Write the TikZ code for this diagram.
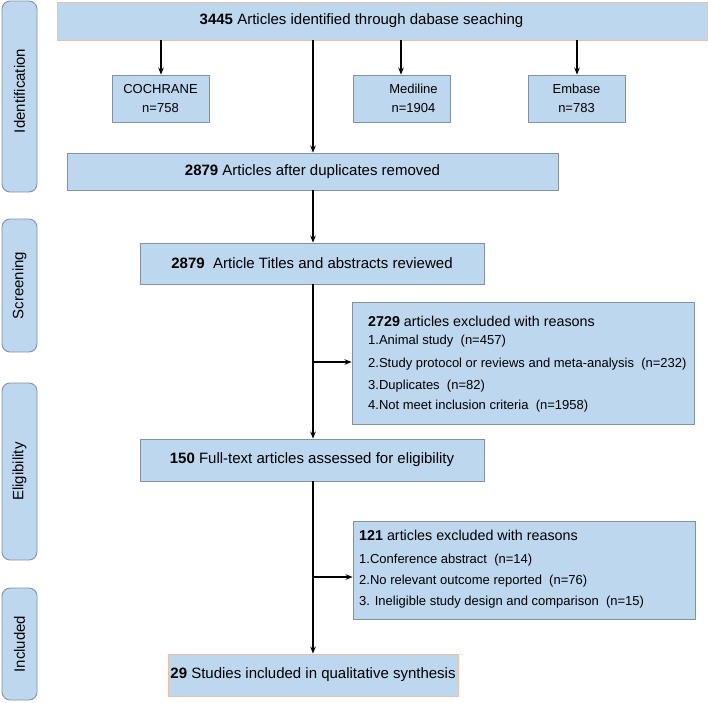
\documentclass[tikz,border=0pt]{standalone}
\usepackage{fontspec}
\setmainfont{Liberation Sans}
\usetikzlibrary{arrows.meta}
\definecolor{boxfill}{HTML}{BDD7EE}
\definecolor{boxline}{HTML}{8391A2}
\definecolor{orangeline}{HTML}{EDBFA8}
\begin{document}
\begin{tikzpicture}[x=1pt,y=-1pt,
  box/.style={draw=boxline,fill=boxfill,line width=0.9pt,rectangle,inner sep=0pt,align=center,font=\fontsize{15}{18}\selectfont},
  obox/.style={box,draw=orangeline},
  smallbox/.style={box,font=\fontsize{13}{19}\selectfont},
  side/.style={box,rounded corners=8pt,minimum width=35pt},
  sidetext/.style={rotate=90,font=\fontsize{15}{18}\selectfont},
  arr/.style={draw=black,line width=1.1pt,-{Stealth[length=7pt,width=5.5pt]}},
  listtext/.style={anchor=base west,inner sep=0pt,font=\fontsize{13}{16}\selectfont},
  headtext/.style={anchor=base west,inner sep=0pt,font=\fontsize{14.3}{17}\selectfont}]
\useasboundingbox[fill=white] (0,0) rectangle (708,702);

% side phase boxes
\node[side,minimum height=191pt] (sid) at (19.5,96.5) {};
\node[sidetext] (sidt) at (19.5,91) {Identification};
\node[side,minimum height=133pt] (sscr) at (19.5,285.5) {};
\node[sidetext] (sscrt) at (sscr.center) {Screening};
\node[side,minimum height=177pt] (selig) at (19.5,471.5) {};
\node[sidetext] (seligt) at (selig.center) {Eligibility};
\node[side,minimum height=112pt] (sinc) at (19.5,644) {};
\node[sidetext] (sinct) at (sinc.center) {Included};

% main boxes
\node[obox,minimum width=650pt,minimum height=38pt] (top) at (382,21) {};
\node[font=\fontsize{15}{18}\selectfont,inner sep=0pt] (toptext) at (361.5,21) {\textbf{3445} Articles identified through dabase seaching};

\node[smallbox,minimum width=97pt,minimum height=47pt] (coch) at (160.5,98.5) {COCHRANE\\n=758};
\node[smallbox,minimum width=97pt,minimum height=47pt] (med) at (401.5,98.5) {};
\node[font=\fontsize{13}{19}\selectfont,align=center,inner sep=0pt] (medtext) at (413.5,98.5) {Mediline\\ n=1904};
\node[smallbox,minimum width=97pt,minimum height=47pt] (emb) at (576.5,98.5) {Embase\\n=783};

\node[box,minimum width=491pt,minimum height=37pt] (dup) at (312.5,171.5) {\textbf{2879} Articles after duplicates removed};
\node[box,minimum width=344pt,minimum height=41pt] (scr) at (312,263.5) {\textbf{2879}\ \ Article Titles and abstracts reviewed};

\node[box,minimum width=342pt,minimum height=122pt] (ex1) at (523,363) {};
\node[headtext] (ex1h) at (368,326) {\textbf{2729} articles excluded with reasons};
\node[listtext] (ex1a) at (368,344) {1.Animal study \ (n=457)};
\node[listtext] (ex1b) at (368,367) {2.Study protocol or reviews and meta-analysis \ (n=232)};
\node[listtext] (ex1c) at (368,389) {3.Duplicates \ (n=82)};
\node[listtext] (ex1d) at (368,409) {4.Not meet inclusion criteria \ (n=1958)};

\node[box,minimum width=344pt,minimum height=42pt] (elig) at (312,460) {\textbf{150} Full-text articles assessed for eligibility};

\node[box,minimum width=342pt,minimum height=98pt] (ex2) at (524,570) {};
\node[headtext] (ex2h) at (359,540) {\textbf{121} articles excluded with reasons};
\node[listtext] (ex2a) at (359,563) {1.Conference abstract \ (n=14)};
\node[listtext] (ex2b) at (359,584) {2.No relevant outcome reported \ (n=76)};
\node[listtext] (ex2c) at (359,605) {3. Ineligible study design and comparison \ (n=15)};

\node[obox,minimum width=290pt,minimum height=42pt] (inc) at (313,675) {\textbf{29} Studies included in qualitative synthesis};

% connectors
\coordinate (c1) at (161,40);
\coordinate (c2) at (401,40);
\coordinate (c3) at (577,40);
\coordinate (cm) at (313,40);
\draw[arr] (c1) -- (c1 |- coch.north);
\draw[arr] (c2) -- (c2 |- med.north);
\draw[arr] (c3) -- (c3 |- emb.north);
\draw[arr] (cm) -- (cm |- dup.north);
\draw[arr] (dup.south -| cm) -- (scr.north -| cm);
\draw[arr] (scr.south -| cm) -- (elig.north -| cm);
\draw[arr] (elig.south -| cm) -- (inc.north -| cm);
\coordinate (b1) at (313,362);
\coordinate (b2) at (313,577);
\draw[arr] (b1) -- (b1 -| ex1.west);
\draw[arr] (b2) -- (b2 -| ex2.west);
\end{tikzpicture}
\end{document}
